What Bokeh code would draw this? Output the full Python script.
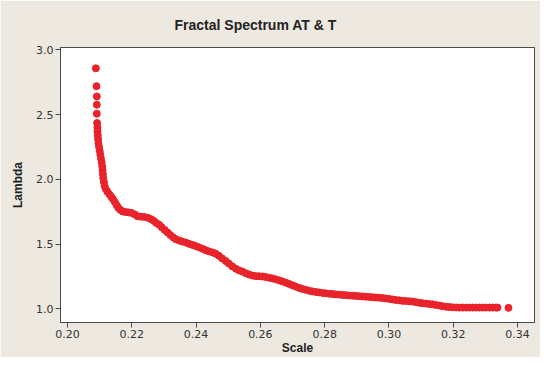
from bokeh.plotting import figure
from bokeh.models import FixedTicker, PrintfTickFormatter, Range1d
from bokeh.embed import file_html
from bokeh.resources import INLINE

title_text = "Fractal Spectrum AT & T"
x_label = "Scale"
y_label = "Lambda"
x_ticks = [0.20, 0.22, 0.24, 0.26, 0.28, 0.30, 0.32, 0.34]
y_ticks = [1.0, 1.5, 2.0, 2.5, 3.0]

scale = [
    0.2088, 0.2090, 0.2091, 0.2091, 0.2091, 0.2092, 0.2093, 0.2093, 0.2094, 0.2095,
    0.2096, 0.2098, 0.2100, 0.2102, 0.2104, 0.2106, 0.2108, 0.2109, 0.2110, 0.2111,
    0.2113, 0.2115, 0.2119, 0.2124, 0.2130, 0.2136, 0.2141, 0.2147, 0.2153, 0.2158,
    0.2164, 0.2171, 0.2180, 0.2190, 0.2200, 0.2210, 0.2218, 0.2228, 0.2239, 0.2250,
    0.2260, 0.2268, 0.2276, 0.2285, 0.2293, 0.2302, 0.2311, 0.2320, 0.2329, 0.2337,
    0.2347, 0.2357, 0.2368, 0.2378, 0.2389, 0.2399, 0.2409, 0.2420, 0.2430, 0.2440,
    0.2451, 0.2461, 0.2471, 0.2481, 0.2492, 0.2502, 0.2513, 0.2524, 0.2534, 0.2544,
    0.2555, 0.2565, 0.2576, 0.2586, 0.2596, 0.2607, 0.2617, 0.2628, 0.2638, 0.2648,
    0.2659, 0.2669, 0.2680, 0.2690, 0.2700, 0.2710, 0.2721, 0.2731, 0.2742, 0.2752,
    0.2762, 0.2773, 0.2783, 0.2794, 0.2804, 0.2815, 0.2825, 0.2835, 0.2846, 0.2856,
    0.2866, 0.2876, 0.2887, 0.2897, 0.2908, 0.2918, 0.2928, 0.2939, 0.2949, 0.2959,
    0.2970, 0.2980, 0.2990, 0.3001, 0.3011, 0.3021, 0.3032, 0.3042, 0.3052, 0.3063,
    0.3073, 0.3084, 0.3094, 0.3104, 0.3115, 0.3125, 0.3136, 0.3146, 0.3157, 0.3167,
    0.3178, 0.3188, 0.3198, 0.3209, 0.3219, 0.3230, 0.3240, 0.3250, 0.3261, 0.3271,
    0.3282, 0.3292, 0.3302, 0.3313, 0.3323, 0.3333, 0.3338, 0.3372,
]
lambda_values = [
    2.857, 2.719, 2.640, 2.576, 2.507, 2.435, 2.400, 2.370, 2.340, 2.310,
    2.280, 2.250, 2.220, 2.190, 2.160, 2.130, 2.100, 2.070, 2.040, 2.010,
    1.980, 1.950, 1.925, 1.905, 1.885, 1.865, 1.848, 1.825, 1.800, 1.780,
    1.765, 1.753, 1.748, 1.745, 1.740, 1.728, 1.715, 1.712, 1.710, 1.703,
    1.692, 1.680, 1.664, 1.650, 1.630, 1.610, 1.590, 1.570, 1.552, 1.538,
    1.528, 1.520, 1.512, 1.502, 1.494, 1.485, 1.475, 1.464, 1.453, 1.444,
    1.436, 1.426, 1.410, 1.390, 1.370, 1.350, 1.328, 1.310, 1.297, 1.288,
    1.275, 1.265, 1.257, 1.253, 1.252, 1.250, 1.246, 1.240, 1.235, 1.228,
    1.220, 1.212, 1.202, 1.192, 1.182, 1.172, 1.162, 1.154, 1.147, 1.140,
    1.135, 1.130, 1.127, 1.123, 1.120, 1.117, 1.115, 1.112, 1.110, 1.108,
    1.106, 1.103, 1.102, 1.100, 1.098, 1.096, 1.094, 1.092, 1.090, 1.088,
    1.086, 1.084, 1.081, 1.077, 1.073, 1.069, 1.066, 1.062, 1.061, 1.059,
    1.057, 1.052, 1.048, 1.044, 1.041, 1.038, 1.035, 1.030, 1.026, 1.021,
    1.017, 1.014, 1.012, 1.011, 1.010, 1.010, 1.010, 1.010, 1.010, 1.010,
    1.010, 1.010, 1.010, 1.010, 1.010, 1.010, 1.010, 1.008,
]

p = figure(
    width=540, height=357,
    output_backend="svg", toolbar_location=None,
    x_range=Range1d(0.1978, 0.3453), y_range=Range1d(0.895, 3.018),
    min_border_left=60, min_border_right=6, min_border_top=47, min_border_bottom=33,
)
p.background_fill_color = "white"
p.border_fill_color = "#EDE9E0"
p.outline_line_color = "#4a4a4a"
p.outline_line_width = 1
p.grid.visible = False

p.title.text = title_text
p.title.text_font = "Liberation Sans"
p.title.text_font_size = "14px"
p.title.text_font_style = "bold"
p.title.text_color = "#222222"
p.title.align = "left"
p.title.offset = 114
p.title.standoff = 29

for ax in (p.xaxis[0], p.yaxis[0]):
    ax.axis_line_color = "#4a4a4a"
    ax.major_tick_line_color = "#4a4a4a"
    ax.major_tick_out = 5
    ax.major_tick_in = 0
    ax.minor_tick_line_color = None
    ax.major_label_text_font = "DejaVu Sans"
    ax.major_label_text_font_size = "11px"
    ax.major_label_text_color = "#333333"
    ax.major_label_standoff = 2
    ax.axis_label_text_font = "Liberation Sans"
    ax.axis_label_text_font_size = "12px"
    ax.axis_label_text_font_style = "bold"
    ax.axis_label_text_color = "#222222"

p.xaxis.ticker = FixedTicker(ticks=x_ticks)
p.yaxis.ticker = FixedTicker(ticks=y_ticks)
p.xaxis.formatter = PrintfTickFormatter(format="%.2f")
p.yaxis.formatter = PrintfTickFormatter(format="%.1f")
p.xaxis.axis_label = x_label
p.yaxis.axis_label = y_label
p.xaxis.axis_label_standoff = 0
p.yaxis.axis_label_standoff = 8

p.scatter(scale, lambda_values, size=7, fill_color="#E8232B", line_color="#E8232B")

open("out.html", "w").write(file_html(p, INLINE))
